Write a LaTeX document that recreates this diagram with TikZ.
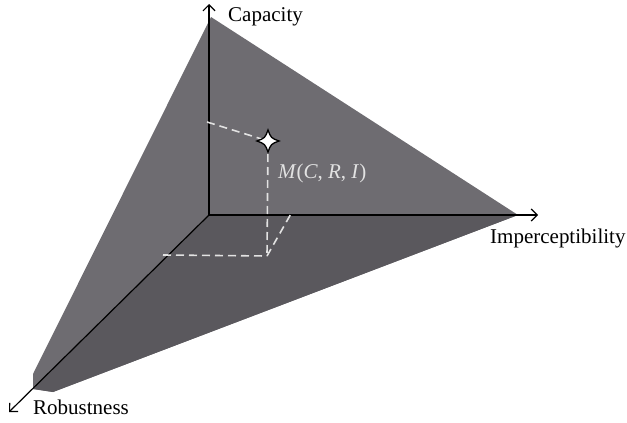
\documentclass[tikz,border=0pt]{standalone}
\usepackage{fontspec}
\setmainfont{Liberation Serif}
\usetikzlibrary{arrows.meta}
\definecolor{facelight}{HTML}{6E6C71}
\definecolor{facedark}{HTML}{5A585D}
\definecolor{dashcol}{HTML}{E2E2E2}
\begin{document}
\begin{tikzpicture}[x=1pt,y=-1pt,
  axis/.style={line width=1.2pt, black, -{Straight Barb[length=6pt,width=12pt,line width=1.2pt]}},
  guide/.style={dashcol, line width=1.6pt, dash pattern=on 8pt off 5pt},
  lbl/.style={inner sep=0pt, font=\fontsize{21}{25}\selectfont},
]
\useasboundingbox (0,0) rectangle (627,423);
% corner points
\coordinate (O) at (209,215);
\coordinate (Top) at (211,17);
\coordinate (Right) at (518,215);
\coordinate (BL1) at (33,374);
\coordinate (BL2) at (33,389);
\coordinate (BL3) at (53,392);
% faces
\fill[facelight] (Top) -- (Right) -- (BL3) -- (BL2) -- (BL1) -- cycle;
\fill[facedark] (O) -- (Right) -- (BL3) -- (BL2) -- cycle;
% axes
\coordinate (Cend) at (209,4);
\coordinate (Iend) at (538,215);
\coordinate (Rend) at (9,412);
\draw[axis] (O) -- (Cend);
\draw[axis] (O) -- (Iend);
\draw[axis] (O) -- (Rend);
% point M and guides
\coordinate (M) at (268,141);
\coordinate (Mc) at (207,122);
\coordinate (Mb) at (267,256);
\coordinate (Mr) at (163,255);
\coordinate (Mi) at (292,212);
\draw[guide] (Mc) -- (M);
\draw[guide] (M) -- (Mb);
\draw[guide] (Mr) -- (Mb);
\draw[guide] (Mb) -- (Mi);
% star
\draw[fill=white, draw=black, line width=1.3pt, shift={(M)}]
  (0,-11) .. controls (3,-3) .. (11,0)
          .. controls (3,3) .. (0,11)
          .. controls (-3,3) .. (-11,0)
          .. controls (-3,-3) .. cycle;
% labels
\node[lbl, anchor=base west] (lc) at (228,21) {Capacity};
\node[lbl, anchor=base west] (li) at (490,243) {Imperceptibility};
\node[lbl, anchor=base west] (lr) at (33,414) {Robustness};
\node[lbl, anchor=base west, text=dashcol] (lm) at (278,178) {\textit{M}(\textit{C}, \textit{R}, \textit{I})};
\end{tikzpicture}
\end{document}
